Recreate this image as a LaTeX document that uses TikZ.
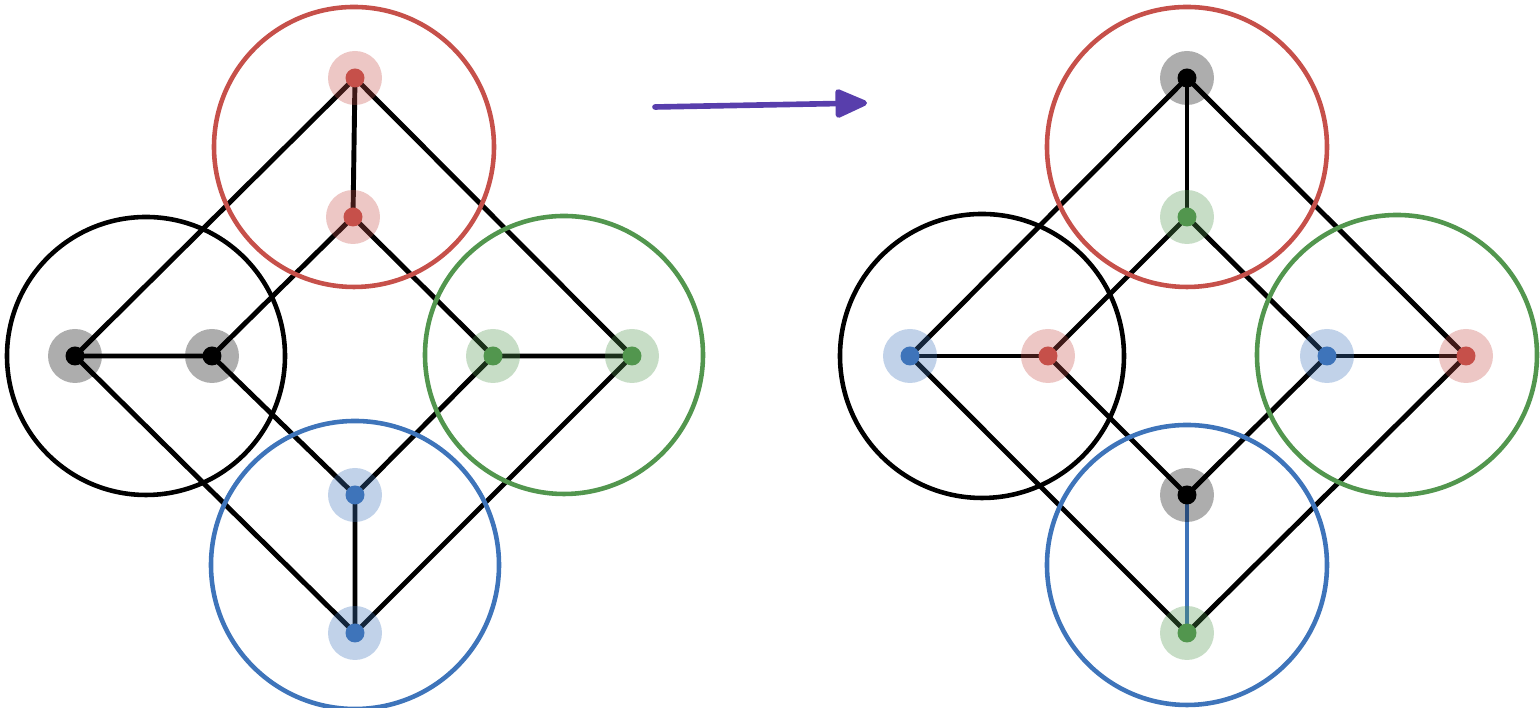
\documentclass[tikz,border=0pt]{standalone}
\usepackage{tikz}
\usetikzlibrary{arrows.meta}
\definecolor{gred}{RGB}{198,80,74}
\definecolor{ggreen}{RGB}{82,150,78}
\definecolor{gblue}{RGB}{62,116,186}
\definecolor{gpurple}{RGB}{88,62,172}
\tikzset{
  every picture/.style={line join=round, line cap=round, >=Stealth},
  edge/.style={line width=1.4pt},
  ring/.style={line width=1.3pt, draw=#1},
  halo/.style={circle, fill=#1, fill opacity=0.32, minimum size=5.4mm, inner sep=0pt},
  dot/.style={circle, fill=#1, minimum size=1.9mm, inner sep=0pt},
}

\begin{document}
\begin{tikzpicture}
\useasboundingbox (0,0) rectangle (15.40,7.08);
% left graph
\coordinate (b1) at (0.75,3.52);
\coordinate (b2) at (2.12,3.52);
\coordinate (r1) at (3.55,6.30);
\coordinate (r2) at (3.53,4.91);
\coordinate (g1) at (4.93,3.52);
\coordinate (g2) at (6.32,3.52);
\coordinate (u1) at (3.55,2.13);
\coordinate (u2) at (3.55,0.75);
% right graph
\coordinate (B1) at (9.10,3.52);
\coordinate (B2) at (10.48,3.52);
\coordinate (R1) at (11.87,6.30);
\coordinate (R2) at (11.87,4.91);
\coordinate (G1) at (13.27,3.52);
\coordinate (G2) at (14.66,3.52);
\coordinate (U1) at (11.87,2.13);
\coordinate (U2) at (11.87,0.75);
% arrow
\coordinate (arrs) at (6.55,6.01);
\coordinate (arre) at (8.67,6.05);

\draw[edge] (b1)--(r1)--(g2)--(u2)--cycle;
\draw[edge] (b2)--(r2)--(g1)--(u1)--cycle;
\draw[edge] (b1)--(b2) (r1)--(r2) (g1)--(g2) (u1)--(u2);

\draw[edge] (B1)--(R1)--(G2)--(U2)--cycle;
\draw[edge] (B2)--(R2)--(G1)--(U1)--cycle;
\draw[edge] (B1)--(B2) (R1)--(R2) (G1)--(G2);
\draw[edge,gblue] (U1)--(U2);

\draw[ring=black] (1.46,3.52) circle (1.39);
\draw[ring=gred] (3.54,5.61) circle (1.40);
\draw[ring=ggreen] (5.64,3.53) circle (1.39);
\draw[ring=gblue] (3.55,1.43) circle (1.44);

\draw[ring=black] (9.82,3.52) circle (1.42);
\draw[ring=gred] (11.87,5.61) circle (1.40);
\draw[ring=ggreen] (13.97,3.53) circle (1.40);
\draw[ring=gblue] (11.87,1.43) circle (1.40);

\foreach \v/\c in {b1/black,b2/black,r1/gred,r2/gred,g1/ggreen,g2/ggreen,u1/gblue,u2/gblue,
  B1/gblue,B2/gred,R1/black,R2/ggreen,G1/gblue,G2/gred,U1/black,U2/ggreen}{
  \node[halo=\c] (\v h) at (\v) {};
  \node[dot=\c] (\v d) at (\v) {};
}

\draw[gpurple, line width=1.6pt, -{Triangle[length=3.6mm,width=3.0mm,round]}] (arrs)--(arre);
\end{tikzpicture}
\end{document}
